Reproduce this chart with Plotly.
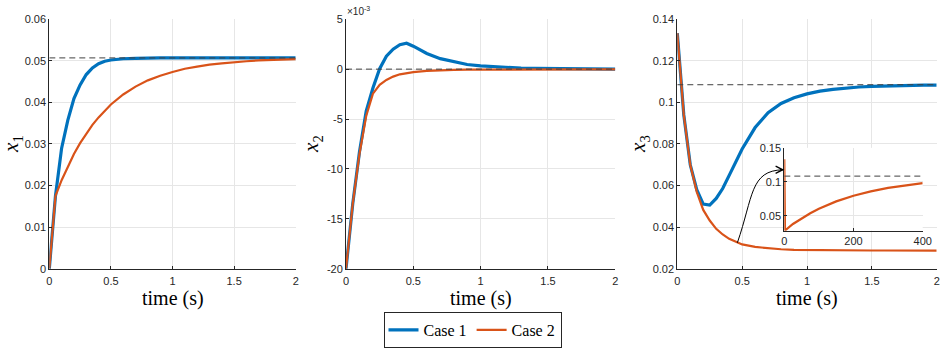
import plotly.graph_objects as go

# time grid (s)
t = [0, 0.05, 0.1, 0.15, 0.2, 0.25, 0.3, 0.35, 0.4, 0.45, 0.5,
     0.6, 0.7, 0.8, 0.9, 1.0, 1.1, 1.2, 1.3, 1.4, 1.5, 1.6, 1.7, 1.8, 1.9, 2.0]

x1_case1 = [0, 0.0175, 0.0290, 0.0357, 0.0409, 0.0442, 0.0467, 0.0483, 0.0493, 0.0499, 0.0502,
            0.0505, 0.0506, 0.0507, 0.0507, 0.0507, 0.0507, 0.0507, 0.0507, 0.0507, 0.0507,
            0.0507, 0.0507, 0.0507, 0.0507, 0.0507]
x1_case2 = [0, 0.0175, 0.0213, 0.0246, 0.0276, 0.0302, 0.0325, 0.0346, 0.0364, 0.0380, 0.0395,
            0.0419, 0.0438, 0.0453, 0.0464, 0.0473, 0.0481, 0.0486, 0.0491, 0.0494, 0.0497,
            0.0499, 0.0501, 0.0502, 0.0503, 0.0504]
x1_ref = 0.0507

# x2 in units of 1e-3
x2_case1 = [-20, -13.5, -8.3, -4.2, -1.9, 0.05, 1.3, 2.0, 2.45, 2.6, 2.3,
            1.57, 1.05, 0.72, 0.46, 0.33, 0.23, 0.15, 0.10, 0.07, 0.05,
            0.04, 0.03, 0.02, 0.015, 0.01]
x2_case2 = [-20, -13.5, -8.5, -4.7, -2.46, -1.57, -1.08, -0.75, -0.52, -0.39, -0.30,
            -0.18, -0.11, -0.07, -0.05, -0.04, -0.03, -0.03, -0.03, -0.03, -0.03,
            -0.03, -0.03, -0.03, -0.03, -0.03]
x2_ref = 0

x3_case1 = [0.1333, 0.094, 0.070, 0.058, 0.0511, 0.0506, 0.0538, 0.0586, 0.0649, 0.0713, 0.0776,
            0.0879, 0.0951, 0.0995, 0.1022, 0.1041, 0.1054, 0.1063, 0.1069, 0.1074, 0.1077,
            0.1079, 0.1081, 0.1082, 0.1083, 0.1083]
x3_case2 = [0.1333, 0.094, 0.070, 0.057, 0.0483, 0.0432, 0.0392, 0.0365, 0.0344, 0.0329, 0.0317,
            0.0305, 0.0298, 0.0294, 0.0291, 0.0290, 0.0289, 0.0289, 0.0288, 0.0288, 0.0288,
            0.0288, 0.0287, 0.0287, 0.0287, 0.0287]
x3_ref = 0.1085

# inset: long run of case 2
t_long = [0, 2, 25, 50, 75, 100, 150, 200, 250, 300, 350, 400]
x3_long = [0.1333, 0.0287, 0.0383, 0.0467, 0.0541, 0.0606, 0.0714, 0.0797, 0.0862, 0.0912, 0.0951, 0.0983]

time_ticks = [0, 0.5, 1, 1.5, 2]
time_labels = ["0", "0.5", "1", "1.5", "2"]
x2_ticks = [-20, -15, -10, -5, 0, 5]
x2_labels = ["-20", "-15", "-10", "-5", "0", "5"]

BLUE = "#0072BD"
ORANGE = "#D95319"
W, H = 946, 348

fig = go.Figure()

panels = [
    (x1_case1, x1_case2, x1_ref, "x", "y"),
    (x2_case1, x2_case2, x2_ref, "x2", "y2"),
    (x3_case1, x3_case2, x3_ref, "x3", "y3"),
]
for i, (c1, c2, ref, xa, ya) in enumerate(panels):
    fig.add_trace(go.Scatter(x=t, y=c1, xaxis=xa, yaxis=ya, mode="lines", name="Case 1",
                             legendgroup="c1", showlegend=(i == 0),
                             line=dict(color=BLUE, width=3.2)))
    fig.add_trace(go.Scatter(x=t, y=c2, xaxis=xa, yaxis=ya, mode="lines", name="Case 2",
                             legendgroup="c2", showlegend=(i == 0),
                             line=dict(color=ORANGE, width=2.2)))
    fig.add_trace(go.Scatter(x=[t[0], t[-1]], y=[ref, ref], xaxis=xa, yaxis=ya, mode="lines",
                             showlegend=False, hoverinfo="skip",
                             line=dict(color="#404040", width=1, dash="6px,4px")))

# inset
fig.add_trace(go.Scatter(x=t_long, y=x3_long, xaxis="x4", yaxis="y4", mode="lines",
                         showlegend=False, line=dict(color=ORANGE, width=2.2)))
fig.add_trace(go.Scatter(x=[t_long[0], t_long[-1]], y=[x3_ref, x3_ref], xaxis="x4", yaxis="y4",
                         mode="lines", showlegend=False, hoverinfo="skip",
                         line=dict(color="#404040", width=1, dash="6px,4px")))

ax = dict(showline=True, linecolor="#262626", linewidth=1, mirror=False, automargin=False,
          showgrid=True, gridcolor="#e6e6e6", gridwidth=1, zeroline=False,
          ticks="inside", ticklen=3, tickcolor="#262626",
          tickfont=dict(family="Liberation Sans, Arial", size=11, color="#262626"))
axx = dict(ax, ticklabelstandoff=2)

ytop, ybot = 1 - 19.5 / H, 1 - 272.7 / H
fig.update_layout(
    template="none",
    xaxis=dict(axx, domain=[49.3 / W, 295.7 / W], range=[0, 2], tickvals=time_ticks, ticktext=time_labels, anchor="y"),
    yaxis=dict(ax, domain=[ybot, ytop], range=[0, 0.06], dtick=0.01, anchor="x"),
    xaxis2=dict(axx, domain=[346 / W, 615.3 / W], range=[0, 2], tickvals=time_ticks, ticktext=time_labels, anchor="y2"),
    yaxis2=dict(ax, domain=[ybot, ytop], range=[-20, 5], tickvals=x2_ticks, ticktext=x2_labels, anchor="x2"),
    xaxis3=dict(axx, domain=[677.3 / W, 936.7 / W], range=[0, 2], tickvals=time_ticks, ticktext=time_labels, anchor="y3"),
    yaxis3=dict(ax, domain=[ybot, ytop], range=[0.02, 0.14], dtick=0.02, anchor="x3"),
    xaxis4=dict(ax, domain=[784.3 / W, 922.7 / W], range=[0, 400], tickvals=[0, 200, 400], anchor="y4"),
    yaxis4=dict(ax, domain=[1 - 234 / H, 1 - 150 / H], range=[0.0285, 0.15],
                tickvals=[0.05, 0.1, 0.15], ticktext=["0.05", "0.1", "0.15"], anchor="x4"),
    width=W, height=H, autosize=False,
    margin=dict(l=0, r=0, t=0, b=0, pad=0),
    paper_bgcolor="white", plot_bgcolor="white",
    legend=dict(orientation="h", x=472.5 / W, xanchor="center", y=1 - 316.5 / H, yanchor="top",
                bordercolor="#262626", borderwidth=1, bgcolor="white",
                font=dict(family="Liberation Serif", size=16, color="black")),
)

serif = dict(family="Liberation Serif", size=20, color="black")
for xc, lab in [(12, "<i>x</i><sub>1</sub>"), (312, "<i>x</i><sub>2</sub>"), (639, "<i>x</i><sub>3</sub>")]:
    fig.add_annotation(x=xc / W, y=1 - 146 / H, xref="paper", yref="paper", text=lab,
                       xanchor="center", yanchor="middle",
                       textangle=-90, showarrow=False, font=dict(serif, size=21))
for xc in [172.5, 480.7, 807]:
    fig.add_annotation(x=xc / W, y=1 - 303 / H, xref="paper", yref="paper", text="time (s)",
                       xanchor="center", yanchor="middle", showarrow=False, font=serif)
fig.add_annotation(x=345 / W, y=1 - 19 / H, xref="paper", yref="paper", xanchor="left", yanchor="bottom",
                   text="×10<sup>-3</sup>", showarrow=False,
                   font=dict(family="Liberation Sans, Arial", size=10, color="#262626"))

# curved arrow from the main curve to the inset
fig.add_shape(type="path", xref="x3", yref="y3",
              path="M 0.463,0.0325 C 0.586,0.0546 0.560,0.0673 0.815,0.0676",
              line=dict(color="black", width=1))
fig.add_annotation(x=0.825, y=0.0676, ax=0.78, ay=0.0676, xref="x3", yref="y3", axref="x3", ayref="y3",
                   text="", showarrow=True, arrowhead=5, arrowsize=1.4, arrowwidth=1, arrowcolor="black",
                   standoff=0)

# page body has a default 8px margin; drop it so the figure sits at the window corner
fig.write_html("out.html", config={"displayModeBar": False},
               post_script="document.body.style.margin='0';")
